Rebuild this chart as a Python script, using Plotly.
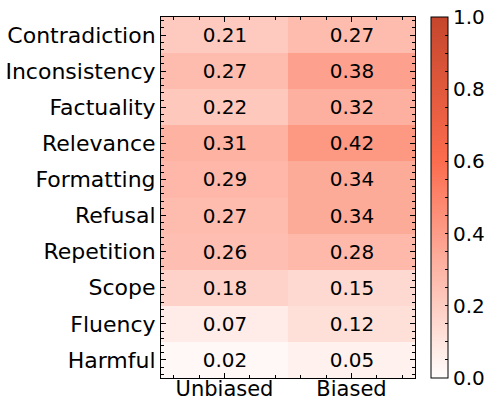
import plotly.graph_objects as go

categories = ["Contradiction", "Inconsistency", "Factuality", "Relevance", "Formatting",
              "Refusal", "Repetition", "Scope", "Fluency", "Harmful"]
columns = ["Unbiased", "Biased"]
unbiased = [0.21, 0.27, 0.22, 0.31, 0.29, 0.27, 0.26, 0.18, 0.07, 0.02]
biased = [0.27, 0.38, 0.32, 0.42, 0.34, 0.34, 0.28, 0.15, 0.12, 0.05]

z = [[u, b] for u, b in zip(unbiased, biased)]
FONT = "DejaVu Sans"
PLOT_W = 254
TOP = 17
PLOT_H = 361
AREA_H = TOP + PLOT_H  # plot area with zero top margin

colorscale = [[0.0, "#fffdfc"], [0.6, "#fc6c4e"], [1.0, "#c5462c"]]

cb_vals = [round(i * 0.05, 2) for i in range(21)]
cb_text = [f"{v:.1f}" if abs(v * 5 - round(v * 5)) < 1e-9 else "" for v in cb_vals]

fig = go.Figure(go.Heatmap(
    z=z, x=list(range(len(columns))), y=list(range(len(categories))),
    zmin=0, zmax=1, colorscale=colorscale,
    texttemplate="%{z:.2f}", textfont=dict(family=FONT, size=20, color="black"),
    hoverongaps=False,
    colorbar=dict(
        x=1 + 16 / PLOT_W, xanchor="left", xpad=0, y=0, yanchor="bottom", ypad=0,
        len=PLOT_H / AREA_H, lenmode="fraction", thickness=17, thicknessmode="pixels",
        outlinewidth=1, outlinecolor="black",
        tickvals=cb_vals, ticktext=cb_text, ticks="inside", ticklen=3,
        tickcolor="black", tickfont=dict(family=FONT, size=20, color="black"),
    ),
))

axis_common = dict(
    showline=True, linecolor="black", linewidth=1, mirror="ticks",
    ticks="inside", ticklen=5, tickcolor="black", showgrid=False, zeroline=False,
    automargin=False,
    minor=dict(ticks="inside", ticklen=3, tickcolor="black", dtick=0.2, tick0=0, showgrid=False),
)

fig.update_xaxes(tickvals=list(range(len(columns))), ticktext=columns,
                 range=[-0.5, len(columns) - 0.5], ticklabelstandoff=-8,
                 tickfont=dict(family=FONT, size=21, color="black"), **axis_common)
fig.update_yaxes(tickvals=list(range(len(categories))), ticktext=categories,
                 range=[len(categories) - 0.5, -0.5], domain=[0, PLOT_H / AREA_H],
                 tickfont=dict(family=FONT, size=22, color="black"), **axis_common)

fig.update_layout(
    width=489, height=402,
    margin=dict(l=161, r=489 - 161 - PLOT_W, t=0, b=402 - AREA_H),
    paper_bgcolor="white", plot_bgcolor="white",
    font=dict(family=FONT, color="black"),
)

fig.write_html("out.html", config={"displayModeBar": False},
               post_script="document.body.style.margin='0';")
